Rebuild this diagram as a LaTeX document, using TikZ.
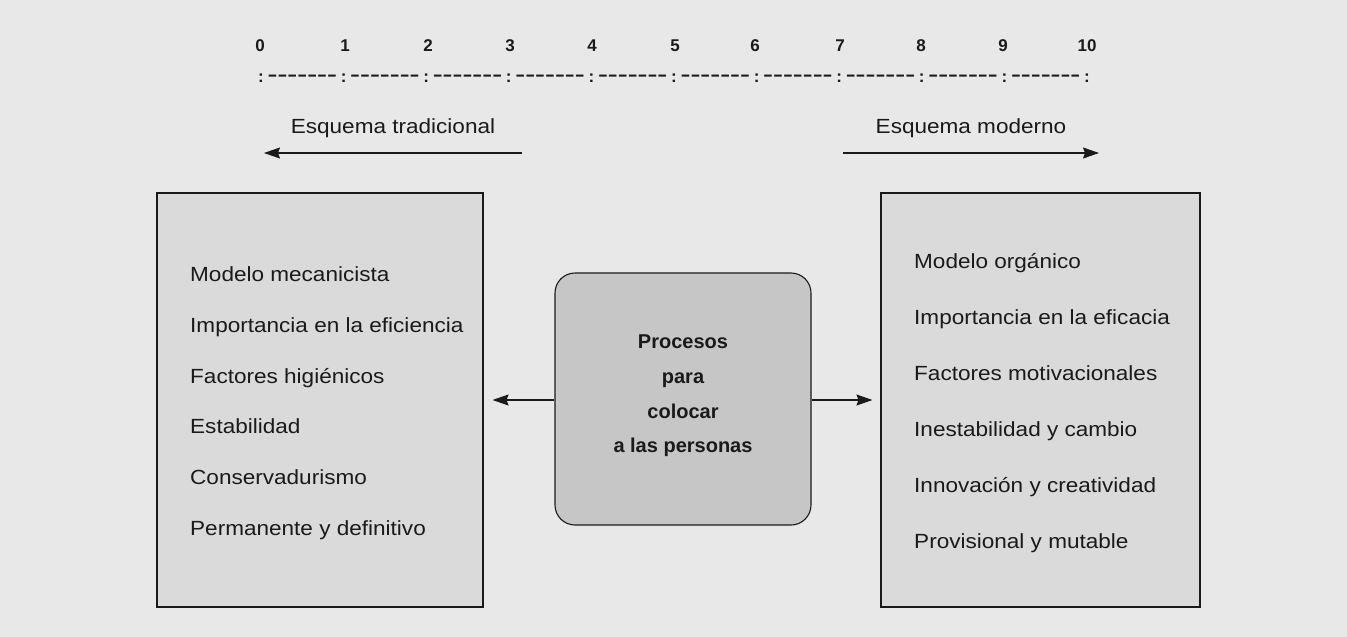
\documentclass[tikz,border=0pt]{standalone}
\usepackage{fontspec}
\setmainfont{Liberation Sans}
\newfontfamily\regf{Liberation Sans}[FakeStretch=1.1]
\newfontfamily\dashf{Liberation Sans}[Ligatures=TeXOff]
\usetikzlibrary{arrows.meta}
\definecolor{bg}{HTML}{E8E8E8}
\definecolor{boxfill}{HTML}{DADADA}
\definecolor{midfill}{HTML}{C6C6C6}
\definecolor{ink}{HTML}{1A1A1A}
\tikzset{
  txt/.style={anchor=base west, inner sep=0pt, font=\regf\fontsize{20.5}{24}\selectfont, text=ink},
  numtxt/.style={inner sep=0pt, font=\bfseries\fontsize{17}{20}\selectfont, text=ink},
  dashtxt/.style={inner sep=0pt, font=\dashf\bfseries\fontsize{17}{20}\selectfont, text=ink},
  listbox/.style={draw=ink, line width=1.1pt, fill=boxfill, minimum width=#1, minimum height=414pt, inner sep=0pt},
  midbox/.style={draw=ink, line width=1.1pt, fill=midfill, rounded corners=20pt, minimum width=256pt, minimum height=252pt, inner sep=0pt},
  arr/.style={draw=ink, line width=1.1pt, -{Stealth[length=16pt,width=11pt,inset=2pt]}},
}
\begin{document}
\begin{tikzpicture}[x=1pt,y=-1pt]
\fill[bg] (0,0) rectangle (1347,637);
\useasboundingbox (0,0) rectangle (1347,637);
% scale numbers
\foreach \n/\xx in {0/260,1/345,2/428,3/510,4/592,5/675,6/755,7/840,8/921,9/1003,10/1087}{
  \node[numtxt] (num\n) at (\xx,46) {\n};
}
% dotted scale line
\foreach \i in {0,...,10}{
  \node[dashtxt] (col\i) at ({261+82.6*\i},78) {:};
}
\foreach \i in {0,...,9}{
  \node[dashtxt] (seg\i) at ({261+82.6*\i+41.3},78) {\scalebox{1.75}[1]{-------}};
}
% headings and top arrows
\node[txt, anchor=base] (trad) at (393,133) {Esquema tradicional};
\node[txt, anchor=base] (mod) at (971,133) {Esquema moderno};
\coordinate (tradS) at (522,153);
\coordinate (tradE) at (264,153);
\coordinate (modS) at (843,153);
\coordinate (modE) at (1099,153);
\draw[arr] (tradS) -- (tradE);
\draw[arr] (modS) -- (modE);
% boxes
\node[listbox=326pt] (left) at (320,400) {};
\node[listbox=319pt] (right) at (1040.5,400) {};
\node[midbox] (mid) at (683,399) {};
% left texts
\node[txt] (l1) at (190,281) {Modelo mecanicista};
\node[txt] (l2) at (190,332) {Importancia en la eficiencia};
\node[txt] (l3) at (190,383) {Factores higiénicos};
\node[txt] (l4) at (190,433) {Estabilidad};
\node[txt] (l5) at (190,484) {Conservadurismo};
\node[txt] (l6) at (190,535) {Permanente y definitivo};
% right texts
\node[txt] (r1) at (914,268) {Modelo orgánico};
\node[txt] (r2) at (914,324) {Importancia en la eficacia};
\node[txt] (r3) at (914,380) {Factores motivacionales};
\node[txt] (r4) at (914,436) {Inestabilidad y cambio};
\node[txt] (r5) at (914,492) {Innovación y creatividad};
\node[txt] (r6) at (914,548) {Provisional y mutable};
% middle text
\node[numtxt, anchor=base, font=\bfseries\fontsize{20}{24}\selectfont] (m1) at (683,348) {Procesos};
\node[numtxt, anchor=base, font=\bfseries\fontsize{20}{24}\selectfont] (m2) at (683,383) {para};
\node[numtxt, anchor=base, font=\bfseries\fontsize{20}{24}\selectfont] (m3) at (683,418) {colocar};
\node[numtxt, anchor=base, font=\bfseries\fontsize{20}{24}\selectfont] (m4) at (683,452) {a las personas};
% connectors
\draw[arr, shorten >=9pt] (mid.west |- 0,400) -- (left.east |- 0,400);
\draw[arr, shorten >=8pt] (mid.east |- 0,400) -- (right.west |- 0,400);
\end{tikzpicture}
\end{document}
